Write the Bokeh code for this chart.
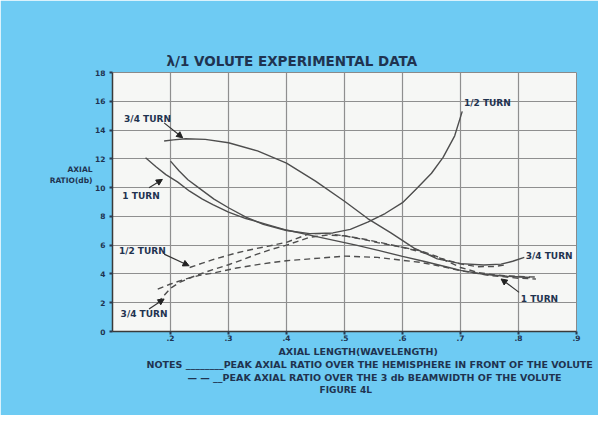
from bokeh.plotting import figure
from bokeh.models import Label, Arrow, NormalHead, FixedTicker, Range1d, LinearAxis, Title
from bokeh.embed import file_html
from bokeh.resources import INLINE

# ---------------- data ----------------
x_ticks = [0.2, 0.3, 0.4, 0.5, 0.6, 0.7, 0.8, 0.9]
x_tick_labels = [".2", ".3", ".4", ".5", ".6", ".7", ".8", ".9"]
y_ticks = [0, 2, 4, 6, 8, 10, 12, 14, 16, 18]
y_tick_labels = ["0", "2", "4", "6", "8", "10", "12", "14", "16", "18"]

# solid curves: peak axial ratio over the hemisphere in front of the volute
half_solid_x = [0.200, 0.215, 0.230, 0.250, 0.275, 0.300, 0.330, 0.360, 0.400, 0.440,
                0.480, 0.510, 0.540, 0.570, 0.600, 0.625, 0.650, 0.670, 0.690, 0.703]
half_solid_y = [11.84, 11.15, 10.55, 9.95, 9.20, 8.60, 7.95, 7.45, 7.02, 6.80,
                6.85, 7.10, 7.60, 8.20, 8.95, 9.95, 11.00, 12.10, 13.60, 15.30]

threeq_solid_x = [0.189, 0.205, 0.226, 0.260, 0.300, 0.350, 0.400, 0.450, 0.500, 0.540,
                  0.580, 0.620, 0.660, 0.700, 0.740, 0.770, 0.790, 0.810]
threeq_solid_y = [13.24, 13.32, 13.40, 13.35, 13.12, 12.55, 11.70, 10.45, 9.05, 7.85,
                  6.85, 5.80, 5.05, 4.72, 4.62, 4.68, 4.88, 5.15]

one_solid_x = [0.157, 0.175, 0.192, 0.212, 0.233, 0.255, 0.273, 0.300, 0.330, 0.367,
               0.400, 0.440, 0.480, 0.520, 0.560, 0.600, 0.640, 0.680, 0.700, 0.740,
               0.780, 0.820]
one_solid_y = [12.08, 11.45, 10.90, 10.40, 9.75, 9.20, 8.82, 8.30, 7.85, 7.43,
               7.05, 6.70, 6.35, 6.00, 5.62, 5.22, 4.85, 4.45, 4.25, 3.98,
               3.84, 3.75]

# dashed curves: peak axial ratio over the 3 db beamwidth of the volute
half_dash_x = [0.233, 0.255, 0.273, 0.295, 0.314, 0.340, 0.367, 0.400, 0.440, 0.470,
               0.500, 0.530, 0.557, 0.600, 0.632, 0.660, 0.700, 0.730, 0.760, 0.800, 0.830]
half_dash_y = [4.45, 4.75, 4.99, 5.25, 5.46, 5.70, 5.92, 6.20, 6.80, 6.80,
               6.65, 6.42, 6.18, 5.85, 5.60, 5.20, 4.45, 4.10, 3.92, 3.82, 3.78]

threeq_dash_x = [0.178, 0.190, 0.200, 0.215, 0.233, 0.255, 0.273, 0.300, 0.325, 0.347,
                 0.373, 0.400, 0.440, 0.470, 0.500, 0.530, 0.560, 0.600, 0.630, 0.660,
                 0.700, 0.730, 0.760, 0.780]
threeq_dash_y = [2.00, 2.55, 3.00, 3.40, 3.72, 4.05, 4.30, 4.64, 5.00, 5.34,
                 5.70, 6.00, 6.55, 6.70, 6.65, 6.45, 6.20, 5.85, 5.55, 5.15,
                 4.70, 4.50, 4.52, 4.65]

one_dash_x = [0.178, 0.200, 0.226, 0.250, 0.273, 0.314, 0.356, 0.400, 0.442, 0.500,
              0.557, 0.600, 0.632, 0.670, 0.700, 0.750, 0.800, 0.830]
one_dash_y = [2.95, 3.30, 3.65, 3.90, 4.06, 4.41, 4.69, 4.92, 5.05, 5.24,
              5.15, 4.95, 4.80, 4.50, 4.22, 3.90, 3.70, 3.65]

# ---------------- styling ----------------
BG = "#6ecbf3"
TXT = "#1f3350"
CURVE = "#4e4e4e"
FONT = "DejaVu Sans"

p = figure(width=598, height=415, output_backend="svg", toolbar_location=None,
           x_range=Range1d(0.1, 0.9), y_range=Range1d(0, 18),
           min_border_left=112, min_border_right=22, min_border_top=72,
           min_border_bottom=84)
p.border_fill_color = BG
p.background_fill_color = "#f6f7f5"
p.outline_line_color = "#8a8a8a"
p.outline_line_width = 1

# title
p.title.text = "\u03bb/1 VOLUTE  EXPERIMENTAL  DATA"
p.title.align = "left"
p.title.offset = 54
p.title.text_font = FONT
p.title.text_font_size = "13.5px"
p.title.text_font_style = "bold"
p.title.text_color = TXT
p.title.standoff = 7

for ax in (p.xaxis[0], p.yaxis[0]):
    ax.axis_line_color = "#3a3a3a"
    ax.axis_line_width = 1.5
    ax.major_tick_line_color = "#2a3a50"
    ax.major_tick_line_width = 2
    ax.major_tick_in = 0
    ax.major_tick_out = 3
    ax.minor_tick_line_color = None
    ax.major_label_text_font = FONT
    ax.major_label_text_font_size = "7.5px"
    ax.major_label_text_font_style = "bold"
    ax.major_label_text_color = TXT

p.xaxis.ticker = FixedTicker(ticks=x_ticks)
p.xaxis.major_label_overrides = {t: l for t, l in zip(x_ticks, x_tick_labels)}
p.xaxis.major_label_standoff = 0
p.yaxis.ticker = FixedTicker(ticks=y_ticks)
p.yaxis.major_label_overrides = {t: l for t, l in zip(y_ticks, y_tick_labels)}
p.yaxis.major_label_standoff = 4

p.xgrid.ticker = FixedTicker(ticks=x_ticks)
p.ygrid.ticker = FixedTicker(ticks=y_ticks)
for g in (p.xgrid[0], p.ygrid[0]):
    g.grid_line_color = "#8f8f8f"
    g.grid_line_width = 1.2

# y axis title (horizontal, two lines; trailing empty lines lift it above centre)
ylab = LinearAxis(axis_label="AXIAL\nRATIO(db)\n\n\n\n\n", ticker=FixedTicker(ticks=[]),
                  axis_line_color=None, major_tick_line_color=None,
                  minor_tick_line_color=None, major_label_text_font_size="0px",
                  axis_label_standoff=0, axis_label_text_font=FONT,
                  axis_label_text_font_size="7.5px", axis_label_orientation="horizontal",
                  axis_label_text_font_style="bold", axis_label_text_color=TXT)
p.add_layout(ylab, "left")


def below_title(text, offset, size="9.5px"):
    p.add_layout(Title(text=text, align="left", offset=offset, text_font=FONT,
                       text_font_size=size, text_font_style="bold",
                       text_color=TXT, standoff=0), "below")


below_title("AXIAL LENGTH(WAVELENGTH)", 166)
below_title("NOTES ________PEAK AXIAL RATIO OVER THE HEMISPHERE IN FRONT OF THE VOLUTE", 34)
below_title("\u2014 \u2014 __PEAK AXIAL RATIO OVER THE 3 db BEAMWIDTH OF THE VOLUTE", 75)
below_title("FIGURE 4L", 207, size="9px")

# curves
for xs, ys in ((half_solid_x, half_solid_y), (threeq_solid_x, threeq_solid_y),
               (one_solid_x, one_solid_y)):
    p.line(xs, ys, line_color=CURVE, line_width=1.4)
for xs, ys in ((half_dash_x, half_dash_y), (threeq_dash_x, threeq_dash_y),
               (one_dash_x, one_dash_y)):
    p.line(xs, ys, line_color=CURVE, line_width=1.4, line_dash="6 4")


def label(x, y, text, size="9px", align="left"):
    p.add_layout(Label(x=x, y=y, text=text, text_font=FONT, text_font_size=size,
                       text_color=TXT, text_align=align, text_baseline="middle",
                       text_font_style="bold"))


def pointer(x0, y0, x1, y1):
    p.add_layout(Arrow(x_start=x0, y_start=y0, x_end=x1, y_end=y1,
                       line_color="#333333", line_width=1.2,
                       end=NormalHead(size=6, fill_color="#222222",
                                      line_color="#222222", line_width=1)))


# curve labels and pointers
label(0.120, 14.8, "3/4 TURN")
pointer(0.189, 14.5, 0.221, 13.46)
label(0.117, 9.42, "1 TURN")
pointer(0.163, 9.99, 0.186, 10.57)
label(0.111, 5.61, "1/2 TURN")
pointer(0.189, 5.38, 0.232, 4.57)
label(0.114, 1.22, "3/4 TURN")
pointer(0.163, 1.57, 0.189, 2.26)
label(0.706, 15.88, "1/2 TURN")
label(0.8125, 5.26, "3/4 TURN")
label(0.804, 2.26, "1 TURN")
pointer(0.801, 2.72, 0.770, 3.65)

open("out.html", "w").write(file_html(p, INLINE))
